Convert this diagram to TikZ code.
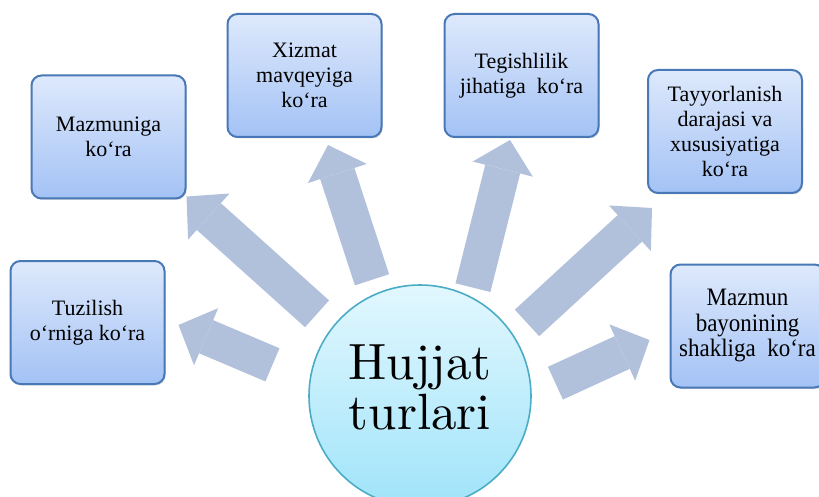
\documentclass[tikz,border=0pt]{standalone}
\usepackage{fontspec}
\usepackage{xcolor}
\usepackage{graphicx}
\usepackage{tikz}
\usetikzlibrary{positioning,arrows.meta,calc,shadows,backgrounds}
\newfontfamily\boxfont{Liberation Serif}
\newfontfamily\hubfont{lmroman10-regular}[Extension=.otf]
\definecolor{boxtop}{RGB}{222,233,252}
\definecolor{boxbot}{RGB}{163,194,245}
\definecolor{boxline}{RGB}{72,120,182}
\definecolor{hubtop}{RGB}{226,247,254}
\definecolor{hubbot}{RGB}{160,228,250}
\definecolor{hubline}{RGB}{75,172,198}
\definecolor{spoke}{RGB}{178,193,219}

\begin{document}
\begin{tikzpicture}[x=1pt, y=1pt,
  kind/.style={draw=boxline, line width=2pt, rounded corners=10pt,
               top color=boxtop, bottom color=boxbot,
               minimum width=154pt, minimum height=123pt, inner sep=2pt,
               align=center, font=\boxfont\fontsize{22}{25}\selectfont,
               drop shadow={shadow xshift=1.2pt, shadow yshift=-1.5pt, opacity=0.25}},
  hubnode/.style={circle, draw=hubline, line width=1.6pt, minimum size=222pt,
                  top color=hubtop, bottom color=hubbot},
  hubtxt/.style={align=center, font=\hubfont\fontsize{51}{50}\selectfont},
  spk/.style={draw=spoke, line width=36pt,
              -{Triangle[width=62pt, length=30pt, line width=0pt]}},
]
\useasboundingbox (0,0) rectangle (819,496);
\clip (0,0) rectangle (819,496);

% --- centre ---
\node[hubnode] (hub) at (420,100) {};
\node[hubtxt] (title) at ($(hub.center)+(0,9)$) {Hujjat\\turlari};

% --- kinds of documents ---
\node[kind] (b1) at (108.5,359) {Mazmuniga\\ko‘ra};
\node[kind] (b2) at (304.5,420.5) {Xizmat\\mavqeyiga\\ko‘ra};
\node[kind] (b3) at (521.5,420.5) {Tegishlilik\\jihatiga\ \ ko‘ra};
\node[kind] (b4) at (725,364.5) {Tayyorlanish\\darajasi va\\xususiyatiga\\ko‘ra};
\node[kind] (b5) at (87.5,173.5) {Tuzilish\\o‘rniga ko‘ra};
\node[kind] (b6) at (747.5,170) {\scalebox{1}[1.09]{\fontsize{23}{23}\selectfont
  \begin{tabular}{@{}c@{}}Mazmun\\bayonining\\shakliga\ \ ko‘ra\end{tabular}}};

% --- block arrows ---
\begin{scope}[on background layer]
\draw[spk, shorten <=20pt] (hub.142.5) -- ($(b1.south east)+(0,3)$);
\draw[spk, shorten <=14pt] (hub.113.8) -- ($(b2.south)+(23.5,-7)$);
\draw[spk, shorten <=9pt]  (hub.63.3)  -- ($(b3.south)+(-11.5,-2)$);
\draw[spk, shorten <=18pt] (hub.33.3)  -- ($(b4.south west)+(5,-14)$);
\draw[spk, shorten <=26pt] (hub.1.8)   -- ($(b6.west)+(-20,-14)$);
\draw[spk, shorten <=40pt] (hub.172)   -- ($(b5.east)+(13,-2.5)$);
\end{scope}
\end{tikzpicture}
\end{document}
